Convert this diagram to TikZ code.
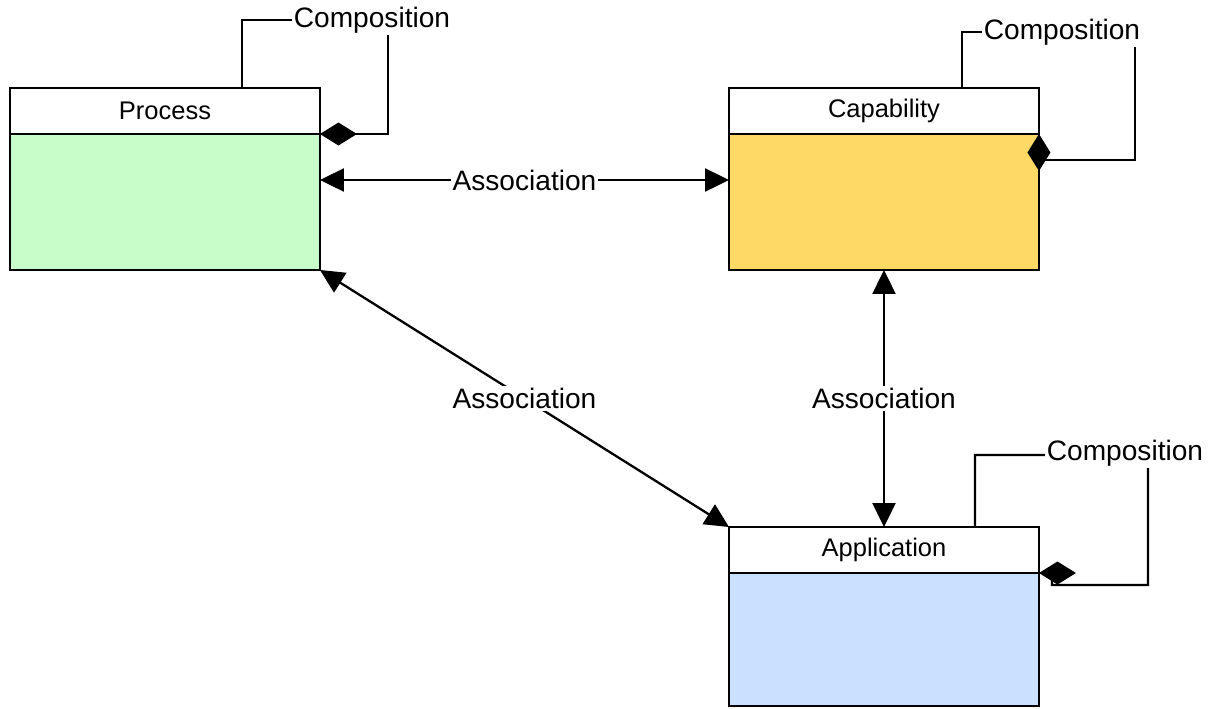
\documentclass[tikz,border=0pt]{standalone}
\usepackage{fontspec}
\setmainfont{Liberation Sans}
\usetikzlibrary{positioning,arrows.meta}
\definecolor{procgreen}{HTML}{C8FCC8}
\definecolor{capyellow}{HTML}{FFD966}
\definecolor{appblue}{HTML}{C9E0FF}
\tikzset{
  head/.style={draw, fill=white, line width=1.3pt, outer sep=0pt,
    minimum width=6.2cm, minimum height=0.92cm, font=\fontsize{14.5}{17}\selectfont},
  body/.style={draw, line width=1.3pt, outer sep=0pt,
    minimum width=6.2cm, minimum height=2.72cm},
  lbl/.style={fill=white, inner sep=1pt, font=\fontsize{16}{19}\selectfont},
  assoc/.style={line width=1.3pt,
    {Triangle[length=0.48cm,width=0.46cm]}-{Triangle[length=0.48cm,width=0.46cm]}},
  compo/.style={line width=1.3pt, -{Diamond[length=0.74cm,width=0.46cm]}},
}
\begin{document}
\begin{tikzpicture}[x=0.02cm, y=-0.02cm]
                \useasboundingbox (0,0) rectangle (1218,708);
                % classes
                \node [head] (proc) at (165,111) {Process};
                \node [body, fill=procgreen, below=0pt of proc] (procB) {};
                \node [head] (cap) at (884,111) {Capability};
                \node [body, fill=capyellow, below=0pt of cap] (capB) {};
                \node [head] (app) at (884,550) {Application};
                \node [body, fill=appblue, minimum height=2.66cm, below=0pt of app] (appB) {};
                % associations
                \draw [assoc] (procB.east |- 0,180) -- node [lbl] {Association} (capB.west |- 0,180);
                \draw [assoc] (procB.south east) -- node [lbl] {Association} (app.north west);
                \draw [assoc] (capB.south) -- node [lbl] {Association} (app.north);
                % compositions
                \draw [compo] (242,0 |- proc.north) |- (388,20) |- (proc.south east);
                \node [lbl] (compP) at (372,20) {Composition};
                \draw [compo] (962,0 |- cap.north) |- (1135,32) |- (cap.south east |- 0,160) -- (cap.south east);
                \node [lbl] (compC) at (1062,32) {Composition};
                \draw [compo] (975,0 |- app.north) |- (1148,455) |- (1052,585) -- (1052,573) -- (app.south east);
                \node [lbl] (compA) at (1125,453) {Composition};
            \end{tikzpicture}
\end{document}
